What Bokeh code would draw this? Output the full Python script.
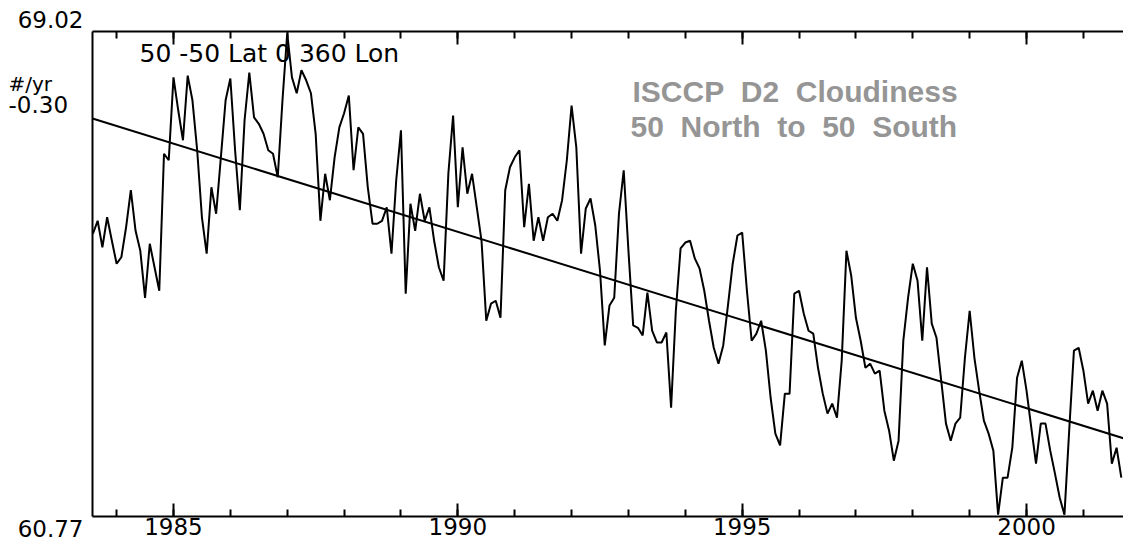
import numpy as np
from bokeh.plotting import figure
from bokeh.models import Label, LinearAxis, SingleIntervalTicker, FixedTicker, Range1d
from bokeh.embed import file_html
from bokeh.resources import INLINE

# ---- data (monthly ISCCP D2 cloudiness, 50N-50S, from July 1983) ----
start_year = 1983.5
cloudiness = [
    65.58, 65.80, 65.35, 65.86, 65.46, 65.07, 65.18, 65.69, 66.32, 65.63,
    65.29, 64.49, 65.41, 65.01, 64.61, 66.94, 66.83, 68.24, 67.68, 67.17,
    68.27, 67.85, 67.00, 65.86, 65.24, 66.37, 65.92, 66.88, 67.85, 68.22,
    67.00, 65.98, 67.51, 68.32, 67.56, 67.45, 67.28, 67.00, 66.94, 66.54,
    67.85, 68.99, 68.24, 67.97, 68.36, 68.19, 67.97, 67.28, 65.80, 66.60,
    66.15, 66.88, 67.39, 67.63, 67.93, 66.66, 67.39, 67.28, 66.37, 65.75,
    65.75, 65.80, 66.03, 65.24, 66.49, 67.34, 64.56, 66.09, 65.63, 66.26,
    65.80, 66.03, 65.46, 65.01, 64.78, 66.60, 67.59, 66.03, 67.05, 66.26,
    66.60, 66.03, 65.46, 64.10, 64.39, 64.44, 64.15, 66.32, 66.71, 66.88,
    67.00, 65.69, 66.43, 65.46, 65.86, 65.46, 65.86, 65.92, 65.80, 66.15,
    66.83, 67.76, 67.05, 65.24, 66.01, 66.18, 65.72, 64.95, 63.68, 64.36,
    64.49, 65.92, 66.66, 65.29, 64.02, 63.98, 63.85, 64.58, 63.93, 63.73,
    63.73, 63.90, 62.62, 64.27, 65.33, 65.43, 65.46, 65.16, 64.99, 64.61,
    64.10, 63.64, 63.37, 63.68, 64.36, 65.07, 65.55, 65.60, 64.61, 63.76,
    63.88, 64.10, 63.59, 62.79, 62.18, 61.98, 62.86, 62.86, 64.56, 64.61,
    64.22, 63.93, 63.88, 63.30, 62.86, 62.52, 62.69, 62.45, 63.42, 65.29,
    64.87, 64.15, 63.76, 63.30, 63.37, 63.20, 63.25, 62.57, 62.23, 61.72,
    62.06, 63.76, 64.49, 65.07, 64.78, 63.76, 65.01, 64.05, 63.81, 63.08,
    62.35, 62.06, 62.35, 62.45, 63.47, 64.27, 63.47, 62.91, 62.40, 62.18,
    61.89, 60.80, 61.43, 61.43, 61.94, 63.13, 63.42, 62.91, 62.28, 61.67,
    62.35, 62.35, 61.89, 61.50, 61.09, 60.80, 62.23, 63.59, 63.64, 63.25,
    62.69, 62.91, 62.57, 62.91, 62.69, 61.67, 61.94, 61.43,
]
years = start_year + (np.arange(len(cloudiness)) + 1) / 12.0

y_min, y_max = 60.77, 69.02
x_start, x_end = 1983.576, 2001.705

trend_slope = -0.30          # #/yr
trend_start_value = 67.54
trend_x = [x_start, x_end]
trend_y = [trend_start_value, trend_start_value + trend_slope * (x_end - x_start)]

tick_years = [1985, 1990, 1995, 2000]
range_labels = ["69.02", "60.77"]
trend_labels = ["#/yr", "-0.30"]
region_label = "50 -50 Lat 0 360 Lon"
title_lines = ["ISCCP\u00a0 D2\u00a0 Cloudiness", "50\u00a0 North\u00a0 to\u00a0 50\u00a0 South"]

# ---- layout: the chart box sits at px (92..1123, 31..516) of a 1123x541 canvas ----
W, H = 1123, 541
box_left, box_top, box_bottom = 92, 31, 516
x_per_px = (x_end - x_start) / (W - box_left)
y_per_px = (y_max - y_min) / (box_bottom - box_top)
x_full = (x_start - box_left * x_per_px, x_end)
y_full = (y_min - (H - box_bottom) * y_per_px, y_max + box_top * y_per_px)

p = figure(width=W, height=H, output_backend="svg", toolbar_location=None,
           x_range=Range1d(*x_full), y_range=Range1d(*y_full),
           min_border=0, background_fill_color="white", border_fill_color="white")
p.outline_line_color = None
p.xgrid.visible = False
p.ygrid.visible = False

FONT = "DejaVu Sans"


def style_x_axis(ax, loc, show_labels):
    ax.ticker = SingleIntervalTicker(interval=5, num_minor_ticks=5)
    ax.fixed_location = loc
    ax.bounds = (x_start, x_end)
    ax.major_tick_in = 13
    ax.major_tick_out = 0
    ax.minor_tick_in = 7
    ax.minor_tick_out = 0
    ax.axis_line_width = 2
    ax.major_tick_line_width = 2
    ax.minor_tick_line_width = 2
    ax.axis_line_color = "black"
    ax.major_tick_line_color = "black"
    ax.minor_tick_line_color = "black"
    if show_labels:
        ax.major_label_text_font = FONT
        ax.major_label_text_font_size = "23px"
        ax.major_label_text_color = "black"
        ax.major_label_standoff = 1
    else:
        ax.major_label_text_color = None


style_x_axis(p.xaxis[0], y_min, True)
top_axis = LinearAxis()
style_x_axis(top_axis, y_max, False)
p.add_layout(top_axis, "above")

ya = p.yaxis[0]
ya.fixed_location = x_start
ya.bounds = (y_min, y_max)
ya.ticker = FixedTicker(ticks=[])
ya.major_label_text_color = None
ya.major_tick_in = 0
ya.major_tick_out = 0
ya.minor_tick_in = 0
ya.minor_tick_out = 0
ya.axis_line_width = 2
ya.axis_line_color = "black"

# ---- series ----
p.line(years, cloudiness, line_color="black", line_width=2)
p.line(trend_x, trend_y, line_color="black", line_width=2)

# ---- texts ----
p.add_layout(Label(x=x_start, y=y_max, x_offset=-9, y_offset=12, text=range_labels[0],
                   text_font=FONT, text_font_size="23px", text_align="right",
                   text_baseline="alphabetic", text_color="black"))
p.add_layout(Label(x=x_start, y=y_min, x_offset=-9, y_offset=-12, text=range_labels[1],
                   text_font=FONT, text_font_size="23px", text_align="right",
                   text_baseline="alphabetic", text_color="black"))
p.add_layout(Label(x=x_start, y=y_max, x_offset=-84, y_offset=-52, text=trend_labels[0],
                   text_font=FONT, text_font_size="20px", text_align="left",
                   text_baseline="alphabetic", text_color="black"))
p.add_layout(Label(x=x_start, y=y_max, x_offset=-84, y_offset=-73, text=trend_labels[1],
                   text_font=FONT, text_font_size="23px", text_align="left",
                   text_baseline="alphabetic", text_color="black"))

p.add_layout(Label(x=x_start, y=y_max, x_offset=47, y_offset=-22, text=region_label,
                   text_font=FONT, text_font_size="25px", text_align="left",
                   text_baseline="alphabetic", text_color="black"))

for k, (line_text, dy) in enumerate(zip(title_lines, [-60, -95])):
    p.add_layout(Label(x=x_start, y=y_max, x_offset=540 - 2 * k, y_offset=dy, text=line_text,
                       text_font="Liberation Sans", text_font_size="30px",
                       text_font_style="bold", text_align="left",
                       text_baseline="alphabetic", text_color="#959595"))

open("out.html", "w").write(file_html(p, INLINE))
